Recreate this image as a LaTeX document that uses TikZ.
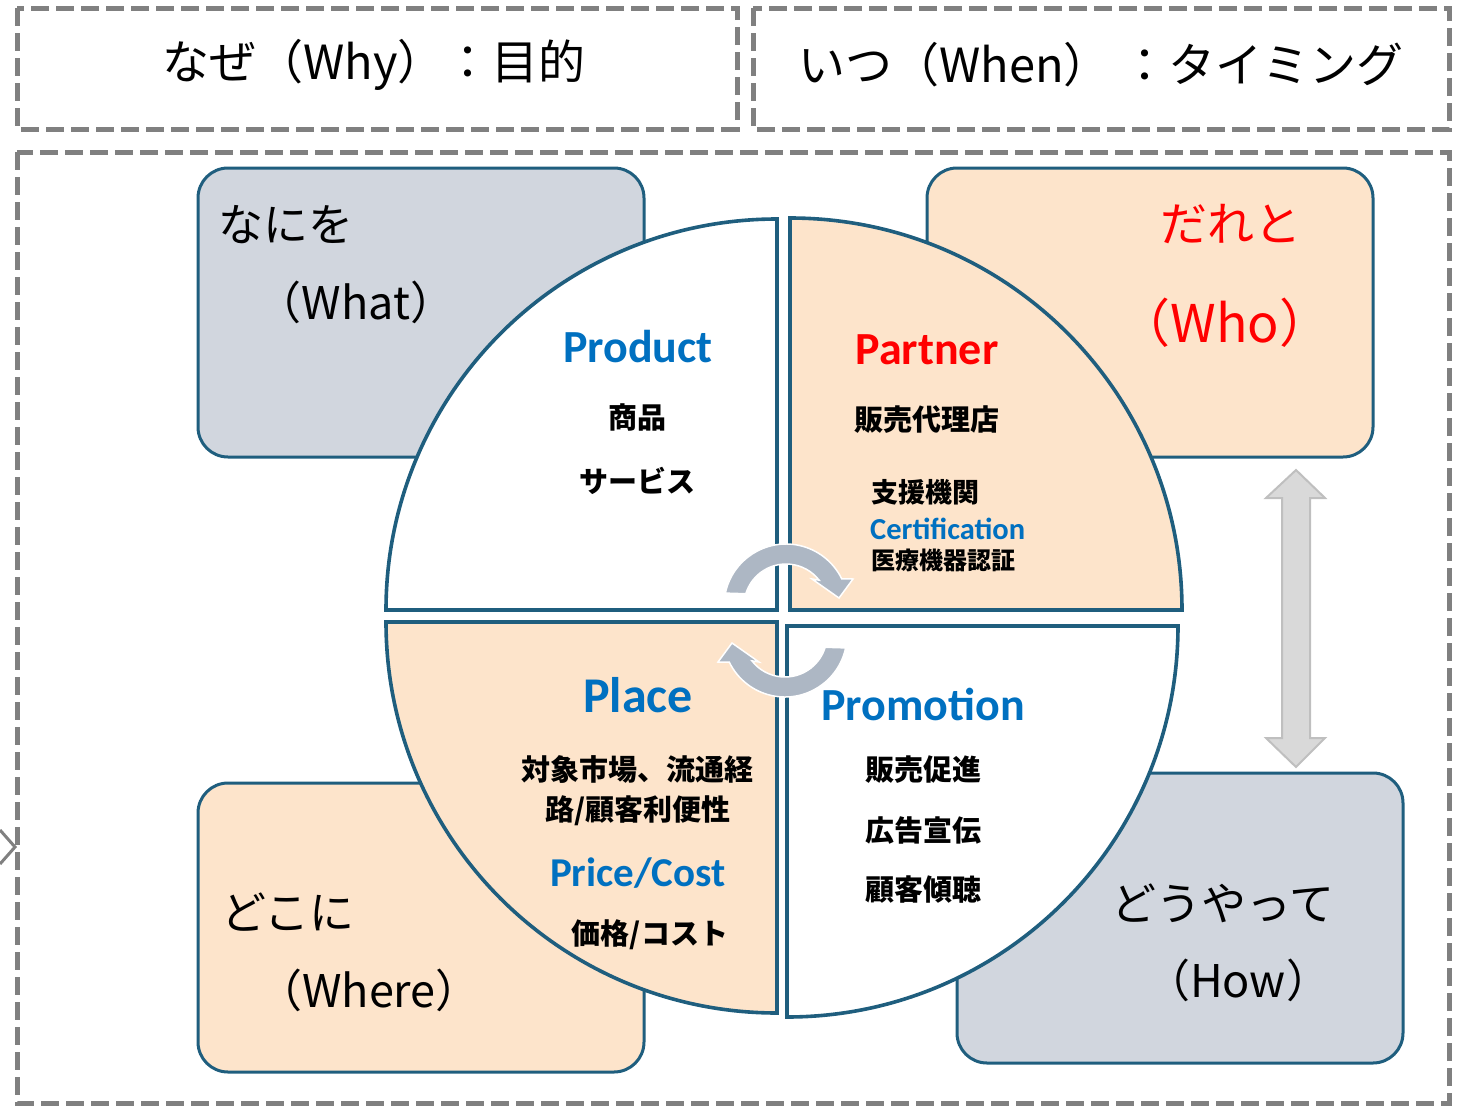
\documentclass[tikz,border=0pt]{standalone}
\usepackage{fontspec}
\setmainfont{Carlito}
\newfontfamily\jp{Noto Sans CJK JP}
\usetikzlibrary{calc}
\definecolor{quadline}{HTML}{1F5E7E}
\definecolor{peach}{HTML}{FDE4CB}
\definecolor{slate}{HTML}{D1D6DE}
\definecolor{dashgray}{HTML}{808080}
\definecolor{arrgray}{HTML}{ADB7C4}
\definecolor{dblfill}{HTML}{D9D9D9}
\definecolor{dbldraw}{HTML}{BFBFBF}
\definecolor{ppblue}{HTML}{0070C0}
\definecolor{ppred}{HTML}{FF0000}
\begin{document}
\begin{tikzpicture}[x=1pt,y=-1pt,
  dashbox/.style={draw=dashgray, line width=5pt, dash pattern=on 18pt off 7pt},
  rbox/.style={draw=quadline, line width=3pt, rounded corners=30pt},
  quad/.style={draw=quadline, line width=3.6pt, line join=miter},
  cyc/.style={fill=arrgray, draw=white, line width=1.5pt},
  dbl/.style={fill=dblfill, draw=dbldraw, line width=2pt},
  head/.style={font=\jp\fontsize{47}{52}\selectfont, inner sep=0pt},
  boxlbl/.style={font=\jp\fontsize{45}{50}\selectfont, inner sep=0pt},
  en/.style={font=\bfseries\fontsize{46}{50}\selectfont, text=ppblue, inner sep=0pt},
  jl/.style={font=\jp\bfseries\fontsize{29}{34}\selectfont, inner sep=0pt}]
\useasboundingbox (0,0) rectangle (1460,1106);
% dashed frames
\draw[dashbox] (17,8) rectangle (737,129);
\draw[dashbox] (753,8) rectangle (1449,129);
\draw[dashbox] (17,152) rectangle (1449,1103);
\coordinate (chevA) at (0,830);
\coordinate (chevB) at (15,847);
\coordinate (chevC) at (0,864);
\draw[dashgray, line width=3pt] (chevA) -- (chevB) -- (chevC);
% header texts
\node[head] (why) at (374,65) {なぜ（Why）：目的};
\node[head] (when) at (1101,65) {いつ（When） ：タイミング};
% rounded boxes
\draw[rbox, fill=slate] (198,168) rectangle (644,457);
\draw[rbox, fill=peach] (927,168) rectangle (1373,457);
\draw[rbox, fill=peach] (198,783) rectangle (644,1072);
\draw[rbox, fill=slate] (957,773) rectangle (1403,1063);
% quadrants
\draw[quad, fill=white] (777,610) -- (386,610) arc[start angle=180, end angle=270, radius=391] -- cycle;
\draw[quad, fill=peach] (790,610) -- (790,218) arc[start angle=270, end angle=360, radius=392] -- cycle;
\draw[quad, fill=peach] (777,622) -- (386,622) arc[start angle=180, end angle=90, radius=391] -- cycle;
\draw[quad, fill=white] (787,626) -- (1178,626) arc[start angle=0, end angle=90, radius=391] -- cycle;
% cycle arrows
\coordinate (c1) at (786,606);
\coordinate (c2) at (785,635);
\path[cyc] ($(c1)+(192:62)$) arc[start angle=192, end angle=334, radius=62]
  -- (853,579) -- (839,598) -- (812,579)
  -- ($(c1)+(322:42)$) arc[start angle=322, end angle=197, radius=42] -- cycle;
\path[cyc] ($(c2)+(12:62)$) arc[start angle=12, end angle=154, radius=62]
  -- (718,662) -- (732,643) -- (759,662)
  -- ($(c2)+(142:42)$) arc[start angle=142, end angle=17, radius=42] -- cycle;
% double arrow
\draw[dbl] (1296,470) -- (1325,498) -- (1310,498) -- (1310,738) -- (1325,738) -- (1296,767)
  -- (1266,738) -- (1282,738) -- (1282,498) -- (1266,498) -- cycle;
% box labels
\node[boxlbl] (what1) at (286,225) {なにを};
\node[boxlbl] (what2) at (356,302) {（What）};
\node[boxlbl, text=ppred, font=\jp\fontsize{47}{52}\selectfont] (who1) at (1231,224) {だれと};
\node[boxlbl, text=ppred, font=\jp\fontsize{52}{58}\selectfont] (who2) at (1225,323) {（Who）};
\node[boxlbl] (where1) at (288,912) {どこに};
\node[boxlbl] (where2) at (369,990) {（Where）};
\node[boxlbl] (how1) at (1223,903) {どうやって};
\node[boxlbl] (how2) at (1238,980) {（How）};
% Product
\node[en] (product) at (638,347) {Product};
\node[jl] (p1) at (637,417) {商品};
\node[jl] (p2) at (637,481) {サービス};
% Partner
\node[en, text=ppred] (partner) at (927,350) {Partner};
\node[jl] (pa1) at (927,420) {販売代理店};
\node[jl, anchor=west, font=\jp\bfseries\fontsize{27}{32}\selectfont] (pa2) at (871,492) {支援機関};
\node[en, anchor=west, font=\bfseries\fontsize{30.5}{34}\selectfont] (cert) at (870,529) {Certification};
\node[jl, anchor=west, font=\jp\bfseries\fontsize{24}{28}\selectfont] (pa3) at (871,560) {医療機器認証};
% Place
\node[en, font=\bfseries\fontsize{50}{54}\selectfont] (place) at (638,695) {Place};
\node[jl] (pl1) at (637,769) {対象市場、流通経};
\node[jl] (pl2) at (638,811) {路/顧客利便性};
\node[en, font=\bfseries\fontsize{41}{46}\selectfont] (price) at (638,873) {Price/Cost};
\node[jl] (pl3) at (650,935) {価格/コスト};
% Promotion
\node[en] (promo) at (923,704) {Promotion};
\node[jl] (pr1) at (923,770) {販売促進};
\node[jl] (pr2) at (923,830) {広告宣伝};
\node[jl] (pr3) at (923,890) {顧客傾聴};
\end{tikzpicture}
\end{document}
